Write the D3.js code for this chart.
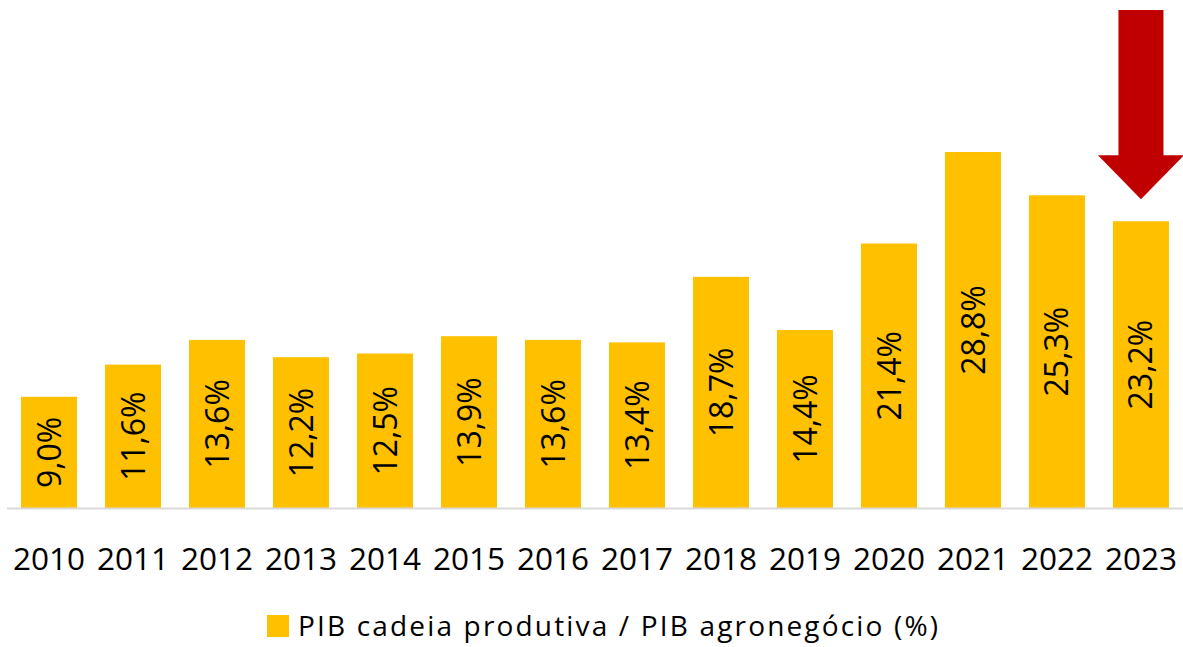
<!DOCTYPE html>
<html>
<head>
<meta charset="utf-8">
<script src="https://cdn.jsdelivr.net/npm/d3@7"></script>
<style>
  body { margin: 0; background: #fff; }
  text { font-family: "Open Sans", "Noto Sans", sans-serif; fill: #000; }
</style>
</head>
<body>
<div class="chart"></div>
<script>
// Data.
const years = ['2010', '2011', '2012', '2013', '2014', '2015', '2016', '2017', '2018', '2019', '2020', '2021', '2022', '2023'];
const shares = [9.0, 11.6, 13.6, 12.2, 12.5, 13.9, 13.6, 13.4, 18.7, 14.4, 21.4, 28.8, 25.3, 23.2];
const seriesName = 'PIB cadeia produtiva / PIB agronegócio (%)';

const width = 1183, height = 647;

const svg = d3.select('.chart')
    .append('svg')
        .attr('width', width)
        .attr('height', height);

// Scales.
const x = d3.scaleBand()
    .domain(years)
    .range([7, 1183])
    .paddingInner(0.333)
    .paddingOuter(0.167);

const y = d3.scaleLinear()
    .domain([0, 40])
    .range([508, 508 - 40 * 12.36]);

const fmt = v => d3.format('.1f')(v).replace('.', ',') + '%';

// Bars.
svg.append('g')
    .selectAll('rect')
    .data(years)
    .join('rect')
        .attr('x', d => x(d))
        .attr('y', (d, i) => y(shares[i]))
        .attr('width', x.bandwidth())
        .attr('height', (d, i) => y(0) - y(shares[i]))
        .attr('fill', '#FFC000');

// Baseline.
svg.append('line')
    .attr('x1', 7).attr('x2', 1183)
    .attr('y1', y(0) + 0.5).attr('y2', y(0) + 0.5)
    .attr('stroke', '#d9d9d9')
    .attr('stroke-width', 2);

// Value labels, rotated inside bars.
svg.append('g')
    .selectAll('text')
    .data(years)
    .join('text')
        .attr('transform', (d, i) => {
            const cx = x(d) + x.bandwidth() / 2;
            const cy = (y(shares[i]) + y(0)) / 2;
            return `translate(${cx}, ${cy}) rotate(-90)`;
        })
        .attr('text-anchor', 'middle')
        .attr('dy', '0.36em')
        .style('font-size', '32px')
        .text((d, i) => fmt(shares[i]));

// Year axis.
const xAxis = svg.append('g')
    .attr('transform', `translate(0, ${y(0)})`)
    .call(d3.axisBottom(x).tickSize(0).tickPadding(0));
xAxis.select('.domain').remove();
xAxis.selectAll('text')
    .attr('dy', null)
    .attr('y', 62)
    .style('font-size', '31.5px')
    .style('font-family', '"Open Sans", "Noto Sans", sans-serif');

// Legend.
const legend = svg.append('g').attr('transform', 'translate(267, 615)');
legend.append('rect')
    .attr('width', 22).attr('height', 22)
    .attr('fill', '#FFC000');
legend.append('text')
    .attr('x', 31).attr('y', 21)
    .attr('textLength', 640)
    .attr('lengthAdjust', 'spacing')
    .style('font-size', '28px')
    .text(seriesName);

// Red arrow pointing down at the last bar.
const last = years[years.length - 1];
const ax = x(last) + x.bandwidth() / 2;
const tipY = y(shares[shares.length - 1]) - 22;
const arrowPts = [
    [ax - 22.5, 10], [ax + 22.5, 10], [ax + 22.5, tipY - 44],
    [ax + 43, tipY - 44], [ax, tipY], [ax - 43, tipY - 44],
    [ax - 22.5, tipY - 44]
];
svg.append('path')
    .attr('d', d3.line()(arrowPts) + 'Z')
    .attr('fill', '#C00000');
</script>
</body>
</html>
